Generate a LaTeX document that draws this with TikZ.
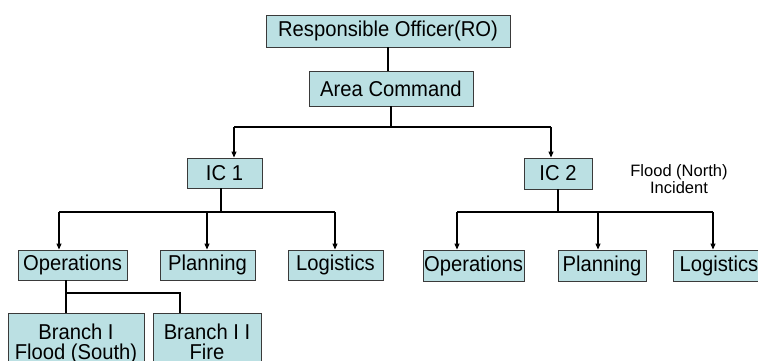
\documentclass[tikz,border=0pt]{standalone}
\usepackage{fontspec}
\setmainfont[FakeStretch=0.94]{Liberation Sans}
\newfontfamily\notefont{Liberation Sans}
\usetikzlibrary{arrows.meta}
\definecolor{boxfill}{HTML}{BBE0E3}
\definecolor{boxline}{HTML}{3A3A3A}

\begin{document}
\begin{tikzpicture}[x=1pt,y=-1pt,
  unit/.style={draw=boxline, line width=0.9pt, fill=boxfill, inner sep=0pt,
    font=\fontsize{21.5}{20}\selectfont, text=black},
  trunk/.style={line width=2.2pt},
  drop/.style={line width=1.1pt, -{Triangle[width=5pt,length=6pt]}},
  note/.style={font=\notefont\fontsize{16.5}{17.7}\selectfont, align=center, inner sep=0pt},
]
\useasboundingbox (0,0) rectangle (758,361);
\clip (0,0) rectangle (758,361);

% command levels
\node[unit, minimum width=244pt, minimum height=32pt] (ro) at (388,31) {Responsible Officer(RO)};
\node[unit, minimum width=164pt, minimum height=35pt] (ac) at (391,88.5) {Area Command};
\node[unit, minimum width=75pt, minimum height=30pt] (ic1) at (224.5,173) {IC 1};
\node[unit, minimum width=68pt, minimum height=31pt] (ic2) at (558,173.5) {IC 2};
\node[note] (north) at (679,179.2) {Flood (North)\\Incident};

% sections under IC 1
\node[unit, minimum width=109pt, minimum height=30pt] (opsA) at (72.5,265) {Operations};
\node[unit, minimum width=95pt, minimum height=30pt] (planA) at (207.5,265) {Planning};
\node[unit, minimum width=95pt, minimum height=30pt] (logA) at (335.5,265) {Logistics};

% sections under IC 2
\node[unit, minimum width=101pt, minimum height=31pt] (opsB) at (473.5,265.5) {Operations};
\node[unit, minimum width=88pt, minimum height=31pt] (planB) at (602,265.5) {Planning};
\node[unit, minimum width=92pt, minimum height=31pt] (logB) at (719,265.5) {Logistics};

% branches under Operations
\node[unit, anchor=north, minimum width=136pt, inner ysep=10.5pt,
  align=center] (br1) at (76,313) {Branch I\\Flood (South)};
\node[unit, anchor=north, minimum width=108pt, inner ysep=10.5pt,
  align=center] (br2) at (207,313) {Branch I I\\Fire\vphantom{()}};

% junction points
\coordinate (barL) at (234,127);
\coordinate (barR) at (551,127);
\coordinate (s1) at (221,212);
\coordinate (a1) at (59,212);
\coordinate (a2) at (207,212);
\coordinate (a3) at (335,212);
\coordinate (s2) at (558,212);
\coordinate (b1) at (457,212);
\coordinate (b2) at (598,212);
\coordinate (b3) at (713,212);
\coordinate (o1) at (66,293);
\coordinate (o2) at (180,293);

% RO -> Area Command -> incidents
\draw[trunk] (ro.south) -- (ro.south |- ac.north);
\draw[trunk] (ac.south) -- (ac.south |- barL);
\draw[trunk] (barL) -- (barR);
\draw[drop] (barL) -- (barL |- ic1.north);
\draw[drop] (barR) -- (barR |- ic2.north);

% IC 1 -> sections
\draw[trunk] (s1 |- ic1.south) -- (s1);
\draw[trunk] (a1) -- (a3);
\draw[drop] (a1) -- (a1 |- opsA.north);
\draw[drop] (a2) -- (a2 |- planA.north);
\draw[drop] (a3) -- (a3 |- logA.north);

% IC 2 -> sections
\draw[trunk] (s2 |- ic2.south) -- (s2);
\draw[trunk] (b1) -- (b3);
\draw[drop] (b1) -- (b1 |- opsB.north);
\draw[drop] (b2) -- (b2 |- planB.north);
\draw[drop] (b3) -- (b3 |- logB.north);

% Operations -> branches
\draw[trunk] (o1 |- opsA.south) -- (o1) -- (o2) -- (o2 |- br2.north);
\draw[trunk] (o1) -- (o1 |- br1.north);
\end{tikzpicture}
\end{document}
